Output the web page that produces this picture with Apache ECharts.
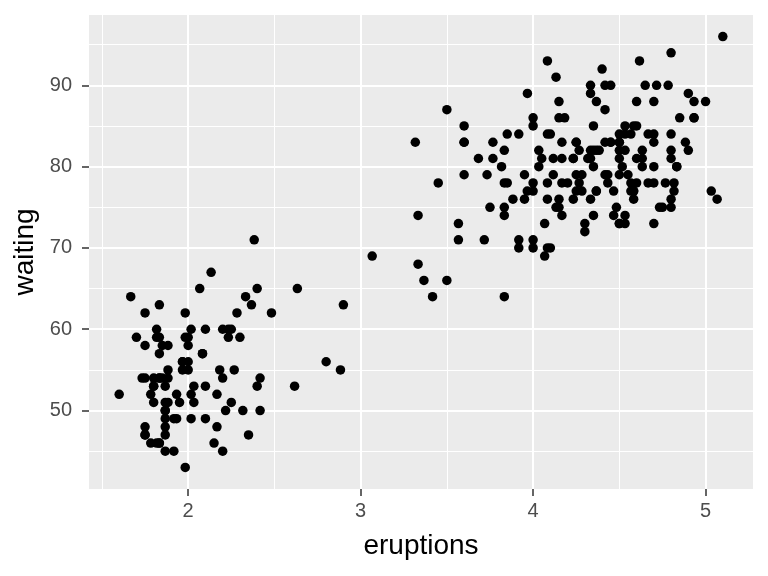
<!DOCTYPE html>
<html>
<head>
<meta charset="utf-8">
<script src="https://cdn.jsdelivr.net/npm/echarts@6/dist/echarts.min.js"></script>
<style>html,body{margin:0;padding:0;background:#fff}#c{width:768px;height:576px}</style>
</head>
<body>
<div id="c"></div>
<script>
const eruptions = [3.600,1.800,3.333,2.283,4.533,2.883,4.700,3.600,1.950,4.350,1.833,3.917,4.200,1.750,4.700,2.167,1.750,4.800,1.600,4.250,1.800,1.750,3.450,3.067,4.533,3.600,1.967,4.083,3.850,4.433,4.300,4.467,3.367,4.033,3.833,2.017,1.867,4.833,1.833,4.783,4.350,1.883,4.567,1.750,4.533,3.317,3.833,2.100,4.633,2.000,4.800,4.716,1.833,4.833,1.733,4.883,3.717,1.667,4.567,4.317,2.233,4.500,1.750,4.800,1.817,4.400,4.167,4.700,2.067,4.700,4.033,1.967,4.500,4.000,1.983,5.067,2.017,4.567,3.883,3.600,4.133,4.333,4.100,2.633,4.067,4.933,3.950,4.517,2.167,4.000,2.200,4.333,1.867,4.817,1.833,4.300,4.667,3.750,1.867,4.900,2.483,4.367,2.100,4.500,4.050,1.867,4.700,1.783,4.850,3.683,4.733,2.300,4.900,4.417,1.700,4.633,2.317,4.600,1.817,4.417,2.617,4.067,4.250,1.967,4.600,3.767,1.917,4.500,2.267,4.650,1.867,4.167,2.800,4.333,1.833,4.383,1.883,4.933,2.033,3.733,4.233,2.233,4.533,4.817,4.333,1.983,4.633,2.017,5.100,1.800,5.033,4.000,2.400,4.600,3.567,4.000,4.500,4.083,1.800,3.967,2.200,4.150,2.000,3.833,3.500,4.583,2.367,5.000,1.933,4.617,1.917,2.083,4.583,3.333,4.167,4.333,4.500,2.417,4.000,4.167,1.883,4.583,4.250,3.767,2.033,4.433,4.083,1.833,4.417,2.183,4.800,1.833,4.800,4.100,3.966,4.233,3.500,4.366,2.250,4.667,2.100,4.350,4.133,1.867,4.600,1.783,4.367,3.850,1.933,4.500,2.383,4.700,1.867,3.833,3.417,4.233,2.400,4.800,2.000,4.150,1.867,4.267,1.750,4.483,4.000,4.117,4.083,4.267,3.917,4.550,4.083,2.417,4.183,2.217,4.450,1.883,1.850,4.283,3.950,2.333,4.150,2.350,4.933,2.900,4.583,3.833,2.083,4.367,2.133,4.350,2.200,4.450,3.567,4.500,4.150,3.817,3.917,4.450,2.000,4.283,4.767,4.533,1.850,4.250,1.983,2.250,4.750,4.117,2.150,4.417,1.817,4.467];
const waiting = [79,54,74,62,85,55,88,85,51,85,54,84,78,47,83,52,62,84,52,79,51,47,78,69,74,83,55,76,78,79,73,77,66,80,74,52,48,80,59,90,80,58,84,58,73,83,64,53,82,59,75,90,54,80,54,83,71,64,77,81,59,84,48,82,60,92,78,78,65,73,82,56,79,71,62,76,60,78,76,83,75,82,70,65,73,88,76,80,48,86,60,90,50,78,63,72,84,75,51,82,62,88,49,83,81,47,84,52,86,81,75,59,89,79,59,81,50,85,59,87,53,69,77,56,88,81,45,82,55,90,45,83,56,89,46,82,51,86,53,79,81,60,82,77,76,59,80,49,96,53,77,77,65,81,71,70,81,93,53,89,45,86,58,78,66,76,63,88,52,93,49,57,77,68,81,81,73,50,85,74,55,77,83,83,51,78,84,46,83,55,81,57,76,84,77,81,87,77,51,78,60,82,91,53,78,46,77,84,49,83,71,80,49,75,64,76,53,94,55,76,50,82,54,75,78,79,78,78,70,79,70,54,86,50,90,54,54,77,79,64,75,47,86,63,85,82,57,82,67,74,54,83,73,73,88,80,71,83,56,79,78,84,58,83,43,60,75,81,46,90,46,74];
const xTicks = [2, 3, 4, 5];
const xMinor = [1.5, 2.5, 3.5, 4.5];
const yTicks = [50, 60, 70, 80, 90];
const yMinor = [45, 55, 65, 75, 85, 95];

const xMin = 1.6 - 0.05 * (5.1 - 1.6), xMax = 5.1 + 0.05 * (5.1 - 1.6);
const yMin = 43 - 0.05 * (96 - 43), yMax = 96 + 0.05 * (96 - 43);

const points = eruptions.map((e, i) => [e, waiting[i]]);
const font = 'Liberation Sans, Arial, sans-serif';

const gridLines = [
  ...xMinor.map(v => ({ xAxis: v, lineStyle: { width: 1 } })),
  ...yMinor.map(v => ({ yAxis: v, lineStyle: { width: 1 } })),
  ...xTicks.map(v => ({ xAxis: v, lineStyle: { width: 2 } })),
  ...yTicks.map(v => ({ yAxis: v, lineStyle: { width: 2 } }))
];

const chart = echarts.init(document.getElementById('c'), null, { renderer: 'canvas' });
chart.setOption({
  animation: false,
  backgroundColor: '#ffffff',
  grid: { left: 89, right: 15, top: 15, bottom: 87, show: true, backgroundColor: '#EBEBEB', borderWidth: 0 },
  xAxis: {
    type: 'value', min: xMin, max: xMax,
    name: 'eruptions', nameLocation: 'middle', nameGap: 43,
    nameTextStyle: { fontFamily: font, fontSize: 28, color: '#000000' },
    axisLine: { show: false },
    splitLine: { show: false },
    axisTick: { show: true, customValues: xTicks, length: 7, lineStyle: { color: '#333333', width: 1.5 } },
    axisLabel: { customValues: xTicks, color: '#4D4D4D', fontFamily: font, fontSize: 20, margin: 12 }
  },
  yAxis: {
    type: 'value', min: yMin, max: yMax,
    name: 'waiting', nameLocation: 'middle', nameGap: 44,
    nameTextStyle: { fontFamily: font, fontSize: 28, color: '#000000' },
    axisLine: { show: false },
    splitLine: { show: false },
    axisTick: { show: true, customValues: yTicks, length: 7, lineStyle: { color: '#333333', width: 1.5 } },
    axisLabel: { customValues: yTicks, color: '#4D4D4D', fontFamily: font, fontSize: 20, margin: 17 }
  },
  series: [
    {
      type: 'scatter', data: [], z: 1, silent: true,
      markLine: {
        silent: true, symbol: 'none', label: { show: false }, z: 1,
        lineStyle: { color: '#FFFFFF', type: 'solid' },
        emphasis: { disabled: true },
        data: gridLines
      }
    },
    {
      type: 'scatter', data: points, z: 10,
      symbol: 'circle', symbolSize: 9.5,
      itemStyle: { color: '#000000', opacity: 1 }
    }
  ]
});
</script>
</body>
</html>
